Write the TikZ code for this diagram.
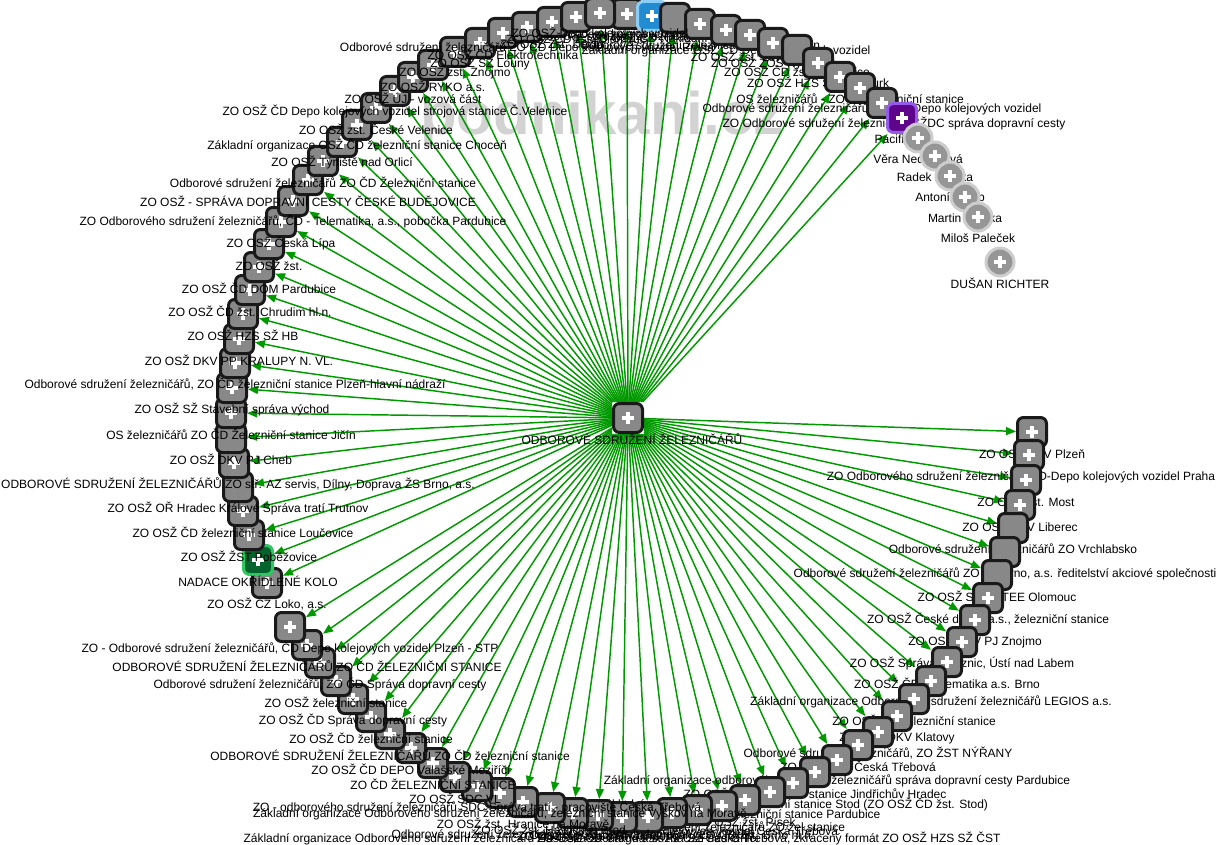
\documentclass[tikz,border=0pt]{standalone}
\usepackage{fontspec}
\setmainfont{Liberation Sans}
\usetikzlibrary{arrows.meta}
\definecolor{edgegreen}{RGB}{0,153,0}
\definecolor{nodegray}{RGB}{136,136,136}
\definecolor{nodeblue}{RGB}{33,140,210}
\definecolor{blueborder}{RGB}{140,205,245}
\definecolor{nodepurple}{RGB}{95,5,140}
\definecolor{purpleborder}{RGB}{150,90,235}
\definecolor{nodegreen}{RGB}{5,100,45}
\definecolor{greenborder}{RGB}{45,200,95}
\definecolor{persongray}{RGB}{150,150,150}
\definecolor{personborder}{RGB}{205,205,205}
\definecolor{wmgray}{RGB}{210,210,210}
\pgfdeclarelayer{bg}
\pgfdeclarelayer{edges}
\pgfsetlayers{bg,edges,main}
\tikzset{
  plus/.style={path picture={
    \draw[white,line width=2.4pt]
      ([xshift=-4.7pt]path picture bounding box.center) -- ([xshift=4.7pt]path picture bounding box.center)
      ([yshift=-4.7pt]path picture bounding box.center) -- ([yshift=4.7pt]path picture bounding box.center);}},
  box/.style={draw=black!90, line width=2.25pt, rounded corners=4.5pt, minimum size=21.75pt, inner sep=0pt},
  ringg/.style={fill=nodegray, plus},
  ringn/.style={fill=nodegray},
  ringb/.style={fill=nodeblue, draw=blueborder, plus},
  ringp/.style={fill=nodepurple, draw=purpleborder, plus},
  ringe/.style={fill=nodegreen, draw=greenborder, plus},
  person/.style={circle, draw=personborder, line width=2.25pt, fill=persongray, minimum size=21pt, inner sep=0pt, plus},
  lbl/.style={font=\fontsize{9}{10}\selectfont, inner sep=0pt, text=black},
  wm/.style={font=\fontsize{45}{45}\selectfont\bfseries, text=wmgray, inner sep=0pt},
  edge/.style={draw=edgegreen, line width=1.1pt, -{Triangle[length=7.5pt,width=6pt]}}
}
\begin{document}
\begin{tikzpicture}[x=0.75pt,y=-0.75pt]
\useasboundingbox (0,0) rectangle (1220,845);
\begin{pgfonlayer}{bg}
\fill[white] (0,0) rectangle (1220,845);
\node[wm, anchor=base west] (wm) at (420,135) {podnikani.cz};
\end{pgfonlayer}
\node[box,ringg] (c) at (628,418) {};
\node[lbl] (ct) at (632,439) {ODBOROVÉ SDRUŽENÍ ŽELEZNIČÁŘŮ};
\foreach \i/\x/\y/\s/\t/\d in {
1/627/14/g/{ZO OSŽ ČD Depo kolejových vozidel Praha}/0,
2/652/16/b/{Odborové sdružení železničářů ZO ČD Cargo}/0,
3/675/18/n/{ZO OSŽ ČD Nákladní přeprava}/0,
4/700/24/g/{Odborové sdružení železničářů ZO žst. Kolín}/0,
5/726/30/g/{Základní organizace OSŽ ČD Depo kolejových vozidel}/0,
6/750/35/g/{ZO OSŽ žst. Lovosice}/0,
7/773/43/g/{ZO OSŽ ZOS Nymburk}/0,
8/797/50/n/{ZO OSŽ ČD žst. Pardubice}/0,
9/818/63/g/{ZO OSŽ HZS SŽ Nymburk}/0,
10/840/77/g/{OS železničářů - ZO ČD železniční stanice}/10,
11/860/88/g/{Odborové sdružení železničářů ZO ČD Depo kolejových vozidel}/12,
12/882/103/g/{ZO Odborové sdružení železničářů SŽDC správa dopravní cesty}/12,
13/902/118/p/{Pacifik CZ}/0,
14/1032/432/g/{ZO OSŽ DKV Plzeň}/0,
15/1029/455/g/{ZO Odborového sdružení železničářů ČD-Depo kolejových vozidel Praha}/-8,
16/1026/480/g/{ZO OSŽ žst. Most}/0,
17/1020/505/g/{ZO OSŽ DKV Liberec}/0,
18/1013/528/n/{Odborové sdružení železničářů ZO Vrchlabsko}/0,
19/1005/552/n/{Odborové sdružení železničářů ZO ŽS Brno, a.s. ředitelství akciové společnosti}/0,
20/997/575/n/{ZO OSŽ SŽDC TEE Olomouc}/0,
21/988/598/g/{ZO OSŽ České dráhy, a.s., železniční stanice}/0,
22/975/620/g/{ZO OSŽ DKV PJ Znojmo}/0,
23/962/642/g/{ZO OSŽ Správa železnic, Ústí nad Labem}/0,
24/947/662/g/{ZO OSŽ ČD - Telematika a.s. Brno}/0,
25/931/681/g/{Základní organizace Odborového sdružení železničářů LEGIOS a.s.}/0,
26/914/699/g/{ZO OSŽ ČD železniční stanice}/0,
27/897/716/g/{ZO OSŽ DKV Klatovy}/0,
28/878/732/g/{Odborové sdružení železničářů, ZO ŽST NÝŘANY}/0,
29/858/745/g/{ZO OSŽ ŽST Česká Třebová}/0,
30/837/760/g/{Základní organizace odborového sdružení železničářů správa dopravní cesty Pardubice}/0,
31/815/772/g/{ZO OSŽ ČD železniční stanice Jindřichův Hradec}/0,
32/793/783/g/{Základní organizace OSŽ železniční stanice Stod (ZO OSŽ ČD žst. Stod)}/0,
33/770/792/g/{ZO OSŽ ČD železniční stanice Pardubice}/0,
34/745/800/g/{ZO OSŽ žst. Písek}/0,
35/722/806/g/{Odborové sdružení železničářů ZO žel.stanice}/0,
36/697/810/g/{ZO OSŽ ČD Depo kolejových vozidel Česká Třebová}/0,
37/672/813/g/{Odborové sdružení železničářů ZO ČD žst. Brno hl.n.}/0,
38/648/817/g/{ZO OSŽ ČD Cargo a.s. PJ Ústí nad Orlicí}/0,
39/622/817/g/{Základní organizace Odborového sdružení železničářů Hasičská záchranná služba SŽ Česká Třebová, zkrácený formát ZO OSŽ HZS SŽ ČST}/0,
40/598/815/g/{ZO OSŽ Správa tratí Olomouc}/0,
41/573/813/g/{Odborové sdružení železničářů ZO ČD Správa dopravní cesty Plzeň}/0,
42/550/808/g/{ZO OSŽ žst. Havlíčkův Brod}/0,
43/523/802/g/{ZO OSŽ žst. Hranice na Moravě}/0,
44/500/793/g/{Základní organizace Odborového sdružení železničářů, železniční stanice Vyškov na Moravě}/0,
45/477/786/g/{ZO - odborového sdružení železničářů SDC Správa tratí - pracoviště Česká Třebová}/0,
46/455/777/g/{ZO OSŽ SDC VL}/0,
47/433/763/g/{ZO ČD ŽELEZNIČNÍ STANICE}/0,
48/411/748/g/{ZO OSŽ ČD DEPO Valašské Meziříčí}/0,
49/390/734/g/{ODBOROVÉ SDRUŽENÍ ŽELEZNIČÁŘŮ ZO ČD železniční stanice}/0,
50/371/717/g/{ZO OSŽ ČD železniční stanice}/0,
51/353/699/g/{ZO OSŽ ČD Správa dopravní cesty}/0,
52/336/681/g/{ZO OSŽ železniční stanice}/0,
53/320/663/g/{Odborové sdružení železničářů, ZO ČD Správa dopravní cesty}/0,
54/307/645/g/{ODBOROVÉ SDRUŽENÍ ŽELEZNIČÁŘŮ ZO ČD ŽELEZNIČNÍ STANICE}/0,
55/290/627/g/{ZO - Odborové sdružení železničářů, ČD Depo kolejových vozidel Plzeň - STP}/0,
56/267/583/g/{ZO OSŽ CZ Loko, a.s.}/0,
57/258/560/e/{NADACE OKŘÍDLENÉ KOLO}/0,
58/249/535/g/{ZO OSŽ ŽST Poběžovice}/0,
59/243/511/g/{ZO OSŽ ČD železniční stanice Loučovice}/0,
60/238/487/n/{ZO OSŽ OŘ Hradec Králové Správa tratí Trutnov}/0,
61/234/463/g/{ODBOROVÉ SDRUŽENÍ ŽELEZNIČÁŘŮ ZO stř. AZ servis, Dílny, Doprava ŽS Brno, a.s.}/4,
62/231/438/n/{ZO OSŽ DKV PJ Cheb}/0,
63/231/413/g/{OS železničářů ZO ČD Železniční stanice Jičín}/0,
64/232/388/g/{ZO OSŽ SŽ Stavební správa východ}/0,
65/235/363/g/{Odborové sdružení železničářů, ZO ČD železniční stanice Plzeň-hlavní nádraží}/0,
66/239/339/g/{ZO OSŽ DKV PP KRALUPY N. VL.}/0,
67/243/314/g/{ZO OSŽ HZS SŽ HB}/0,
68/250/290/g/{ZO OSŽ ČD žst. Chrudim hl.n.}/0,
69/259/267/g/{ZO OSŽ ČD DOM Pardubice}/0,
70/269/244/g/{ZO OSŽ žst.}/0,
71/281/222/g/{ZO OSŽ Česká Lípa}/0,
72/293/201/g/{ZO Odborového sdružení železničářů, ČD - Telematika, a.s., pobočka Pardubice}/0,
73/308/180/g/{ZO OSŽ - SPRÁVA DOPRAVNÍ CESTY ČESKÉ BUDĚJOVICE}/0,
74/323/161/g/{Odborové sdružení železničářů ZO ČD Železniční stanice}/0,
75/342/142/g/{ZO OSŽ Týniště nad Orlicí}/0,
76/357/125/g/{Základní organizace OSŽ ČD železniční stanice Choceň}/0,
77/376/108/g/{ZO OSŽ zst. České Velenice}/0,
78/395/91/g/{ZO OSŽ ČD Depo kolejových vozidel strojová stanice Č.Velenice}/0,
79/413/77/g/{ZO OSŽ ÚJ - vozová část}/0,
80/433/65/g/{ZO OSŽ RYKO a.s.}/0,
81/455/52/g/{ZO OSŽ zst. Znojmo}/0,
82/480/43/g/{ZO OSŽ SŽ Louny}/0,
83/503/33/g/{ZO OSŽ ČD Elektrotechnika}/0,
84/527/27/g/{Odborové sdružení železničářů ZO ČD Depo kolejových vozidel Praha}/0,
85/552/22/g/{ZO OSŽ Žst. Děčín}/0,
86/576/17/g/{ZO OSŽ ČD žst. Olomouc}/0,
87/600/13/g/{ZO OSŽ Depo kolejových vozidel}/0
}{
  \node[box,ring\s] (n\i) at (\x,\y) {};
  \node[lbl] (t\i) at (\x+\d,\y+21) {\t};
  \begin{pgfonlayer}{edges}
    \draw[edge] (c) -- (n\i);
  \end{pgfonlayer}
}
\foreach \j/\x/\y/\t in {
1/918/138/{Věra Nedvědová},
2/935/156/{Radek Hruška},
3/950/176/{Antonín Hleb},
4/965/197/{Martin Vávrka},
5/978/217/{Miloš Paleček},
6/1000/262/{DUŠAN RICHTER}
}{
  \node[person] (p\j) at (\x,\y) {};
  \node[lbl] (pt\j) at (\x,\y+21) {\t};
}
\end{tikzpicture}
\end{document}
